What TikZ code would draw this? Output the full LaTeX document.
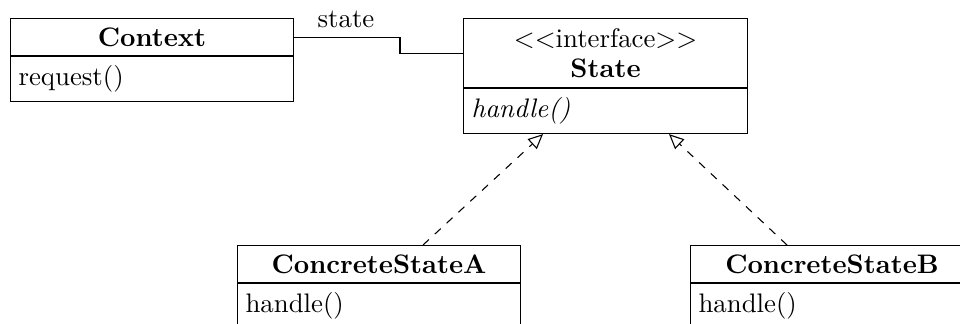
\documentclass[tikz,border=0pt]{standalone}
\usetikzlibrary{arrows.meta,calc}
\newlength\pxu
\setlength\pxu{0.3731pt}
\begin{document}
\begin{tikzpicture}[x=0.3731pt, y=-0.3731pt,
  box/.style={draw, rectangle, inner sep=0pt, anchor=north west, minimum width=283\pxu, line width=0.4pt},
  ttl/.style={box, minimum height=37\pxu, font=\bfseries, align=center},
  bdy/.style={box, minimum height=45\pxu, inner xsep=3pt, inner ysep=0pt, text width=99.6pt, align=left},
  real/.style={dashed, -{Triangle[open, length=5.5pt, width=5pt]}}]
\useasboundingbox (0,0) rectangle (960,323);
\clip (0,0) rectangle (960,323);
% Context
\node[ttl] (ctxT) at (10,18) {Context};
\node[bdy] (ctxB) at (ctxT.south west) {request()};
% State
\node[ttl, minimum width=284\pxu, minimum height=69\pxu, font=\normalfont] (stT) at (463,18) {$<<$interface$>>$\\[-0.8pt]\textbf{State}};
\node[bdy, minimum width=284\pxu, text width=100pt] (stB) at (stT.south west) {\textit{handle()}};
% Concrete states
\node[ttl] (aT) at (237,245) {ConcreteStateA};
\node[bdy] (aB) at (aT.south west) {handle()};
\node[ttl] (bT) at (690,245) {ConcreteStateB};
\node[bdy] (bB) at (bT.south west) {handle()};
% association
\coordinate (bend) at (400,0);
\draw (ctxT.east) -- (ctxT.east -| bend) |- (stT.west);
\node[anchor=base] (lbl) at (346,27) {state};
% realizations
\draw[real] ($(aT.north west)+(186,0)$) -- ($(stB.south west)+(80,0)$);
\draw[real] ($(bT.north west)+(97,0)$) -- ($(stB.south west)+(206,0)$);
\end{tikzpicture}
\end{document}
